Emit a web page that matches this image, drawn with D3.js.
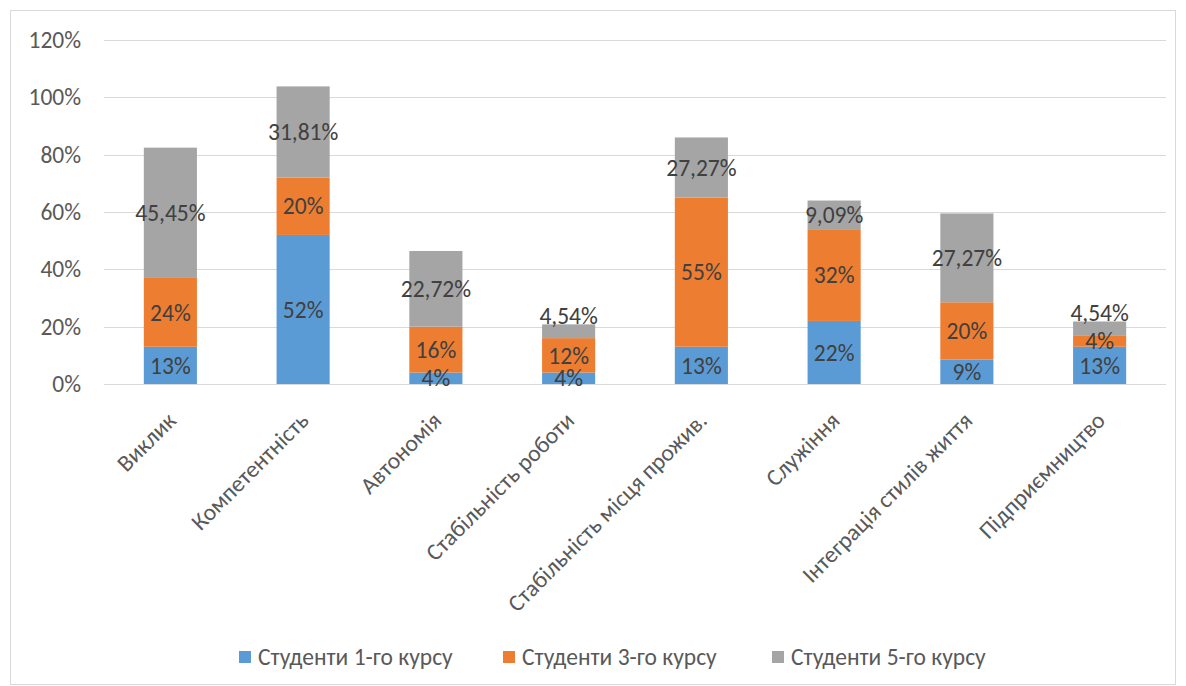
<!DOCTYPE html>
<html>
<head>
<meta charset="utf-8">
<script src="https://cdn.jsdelivr.net/npm/d3@7"></script>
<style>
  body { margin: 0; background: #fff; }
  text { font-family: Calibri, Carlito, "Liberation Sans", sans-serif; }
</style>
</head>
<body>
<div id="chart"></div>
<script>
// categories and series (bar heights in %, labels as printed on the chart)
var categories = ["Виклик", "Компетентність", "Автономія", "Стабільність роботи",
  "Стабільність місця прожив.", "Служіння", "Інтеграція стилів життя", "Підприємництво"];
var seriesNames = ["Студенти 1-го курсу", "Студенти 3-го курсу", "Студенти 5-го курсу"];
var course1 = [13, 52, 4, 4, 13, 22, 8.5, 13];
var course3 = [24, 20, 16, 12, 52, 32, 20, 4];
var course5 = [45.45, 31.81, 26.4, 4.8, 21, 10, 31, 4.8];
var labels1 = ["13%", "52%", "4%", "4%", "13%", "22%", "9%", "13%"];
var labels3 = ["24%", "20%", "16%", "12%", "55%", "32%", "20%", "4%"];
var labels5 = ["45,45%", "31,81%", "22,72%", "4,54%", "27,27%", "9,09%", "27,27%", "4,54%"];
var yTicks = [0, 20, 40, 60, 80, 100, 120];

var W = 1186, H = 686;
var margin = {top: 40, right: 20, bottom: 302, left: 104};
var width = 1166 - margin.left,
    height = 384 - margin.top;
var fs = "23.5px";

var svg = d3.select("#chart").append("svg")
    .attr("width", W)
    .attr("height", H);

// chart frame
svg.append("rect")
    .attr("x", 10.5).attr("y", 10.5)
    .attr("width", 1165).attr("height", 674)
    .attr("fill", "none")
    .attr("stroke", "#d9d9d9");

var g = svg.append("g")
    .attr("transform", "translate(" + margin.left + "," + margin.top + ")");

var color = d3.scaleOrdinal()
  .domain(seriesNames)
  .range(["#5b9bd5", "#ed7d31", "#a5a5a5"]);

var x = d3.scaleBand()
  .domain(categories)
  .range([0, width])
  .paddingInner(0.6)
  .paddingOuter(0.3);

var y = d3.scaleLinear()
  .domain([0, 120])
  .range([height, 0]);

// gridlines
g.selectAll(".grid")
  .data(yTicks)
  .enter()
  .append("line")
    .attr("x1", 0)
    .attr("x2", width)
    .attr("y1", function(d) { return Math.round(y(d)) + 0.5; })
    .attr("y2", function(d) { return Math.round(y(d)) + 0.5; })
    .attr("stroke", "#d9d9d9")
    .attr("stroke-width", 1);

// y axis labels
var yAxis = g.append("g")
  .call(d3.axisLeft(y).tickValues(yTicks).tickSize(0).tickPadding(23)
    .tickFormat(function(d) { return d + "%"; }));
yAxis.select(".domain").remove();
yAxis.selectAll("text")
  .attr("fill", "#595959")
  .style("font-family", "Calibri, Carlito, 'Liberation Sans', sans-serif")
  .style("font-size", fs);

// stack data
var rows = categories.map(function(c, i) {
  var r = {cat: c};
  r[seriesNames[0]] = course1[i];
  r[seriesNames[1]] = course3[i];
  r[seriesNames[2]] = course5[i];
  return r;
});
var labelSets = [labels1, labels3, labels5];
var stacked = d3.stack().keys(seriesNames)(rows);

var layers = g.selectAll(".layer")
  .data(stacked)
  .enter()
  .append("g")
    .attr("fill", function(d) { return color(d.key); });

layers.selectAll("rect")
  .data(function(d) { return d; })
  .enter()
  .append("rect")
    .attr("x", function(d) { return x(d.data.cat); })
    .attr("width", x.bandwidth())
    .attr("y", function(d) { return y(d[1]); })
    .attr("height", function(d) { return y(d[0]) - y(d[1]); });

// data labels
stacked.forEach(function(layer, si) {
  g.selectAll(".lbl" + si)
    .data(layer)
    .enter()
    .append("text")
      .attr("x", function(d) { return x(d.data.cat) + x.bandwidth() / 2; })
      .attr("y", function(d, i) {
        var h = y(d[0]) - y(d[1]);
        // tiny top segment: label sits just above the bar
        if (si === 2 && h < 16) return y(d[1]) - 9;
        return (y(d[0]) + y(d[1])) / 2;
      })
      .attr("dy", "0.35em")
      .attr("text-anchor", "middle")
      .attr("fill", "#404040")
      .style("font-size", fs)
      .text(function(d, i) { return labelSets[si][i]; });
});

// category labels
g.selectAll(".cat")
  .data(categories)
  .enter()
  .append("text")
    .attr("transform", function(d) {
      return "translate(" + (x(d) + x.bandwidth() / 2 + 7) + "," + (height + 38) + ") rotate(-45)";
    })
    .attr("text-anchor", "end")
    .attr("fill", "#595959")
    .style("font-size", fs)
    .text(function(d) { return d; });

// legend
var legendX = [239, 503, 772];
var legend = svg.selectAll(".legend")
  .data(seriesNames)
  .enter()
  .append("g")
    .attr("transform", function(d, i) { return "translate(" + legendX[i] + ",657)"; });
legend.append("rect")
  .attr("x", 0).attr("y", -6)
  .attr("width", 12).attr("height", 12)
  .attr("fill", function(d) { return color(d); });
legend.append("text")
  .attr("x", 19)
  .attr("dy", "0.35em")
  .attr("fill", "#595959")
  .style("font-size", fs)
  .text(function(d) { return d; });
</script>
</body>
</html>
